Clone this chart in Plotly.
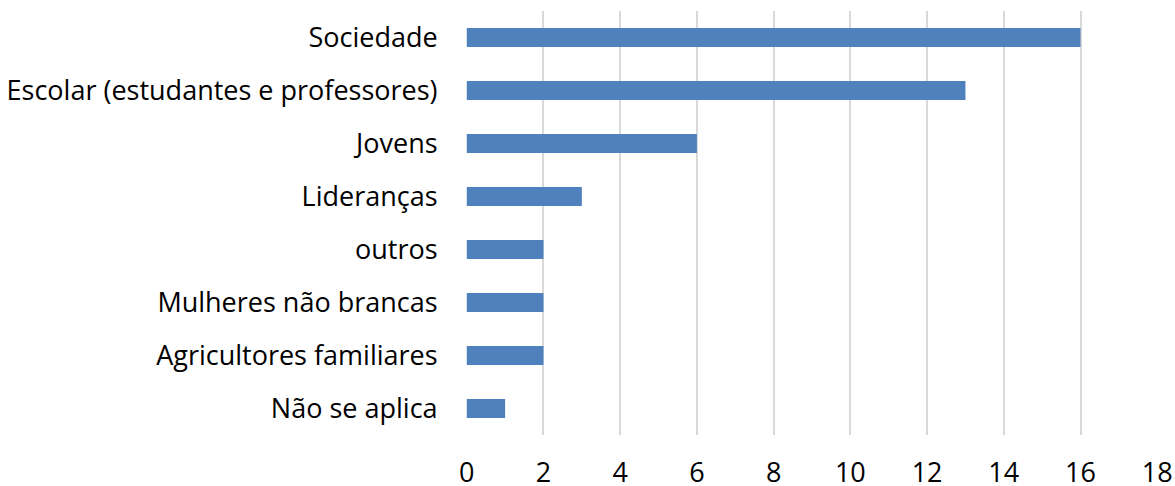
import plotly.graph_objects as go

# dados do grafico (de baixo para cima)
categorias = ["Não se aplica", "Agricultores familiares", "Mulheres não brancas", "outros",
              "Lideranças", "Jovens", "Escolar (estudantes e professores)", "Sociedade"]
valores = [1, 2, 2, 2, 3, 6, 13, 16]
ticks_x = [0, 2, 4, 6, 8, 10, 12, 14, 16, 18]

fonte = dict(family="Open Sans, Liberation Sans, sans-serif", size=27, color="#000000")

fig = go.Figure()
fig.add_trace(go.Bar(x=valores, y=categorias, orientation="h",
                     marker=dict(color="#4F81BD", line=dict(width=0))))

fig.update_layout(
    width=1175, height=486,
    margin=dict(l=466, r=17, t=11, b=51),
    paper_bgcolor="white", plot_bgcolor="white",
    bargap=0.64, showlegend=False, font=fonte,
)
# range um pouco maior para que as linhas de grade em 0 e 18 aparecam
fig.update_xaxes(range=[-0.02, 18.02], tickvals=ticks_x, showgrid=True, gridcolor="#D9D9D9", gridwidth=1.5,
                 zeroline=False, showline=False, ticks="outside", ticklen=14, tickcolor="rgba(0,0,0,0)",
                 tickfont=fonte, automargin=False)
fig.update_yaxes(showgrid=False, zeroline=False, showline=False, ticks="outside", ticklen=22,
                 tickcolor="rgba(0,0,0,0)", tickfont=fonte, automargin=False)

# tira a margem padrao do body para a figura ocupar a janela inteira
fig.write_html("out.html", config={"displayModeBar": False},
               post_script="document.body.style.margin='0';")
